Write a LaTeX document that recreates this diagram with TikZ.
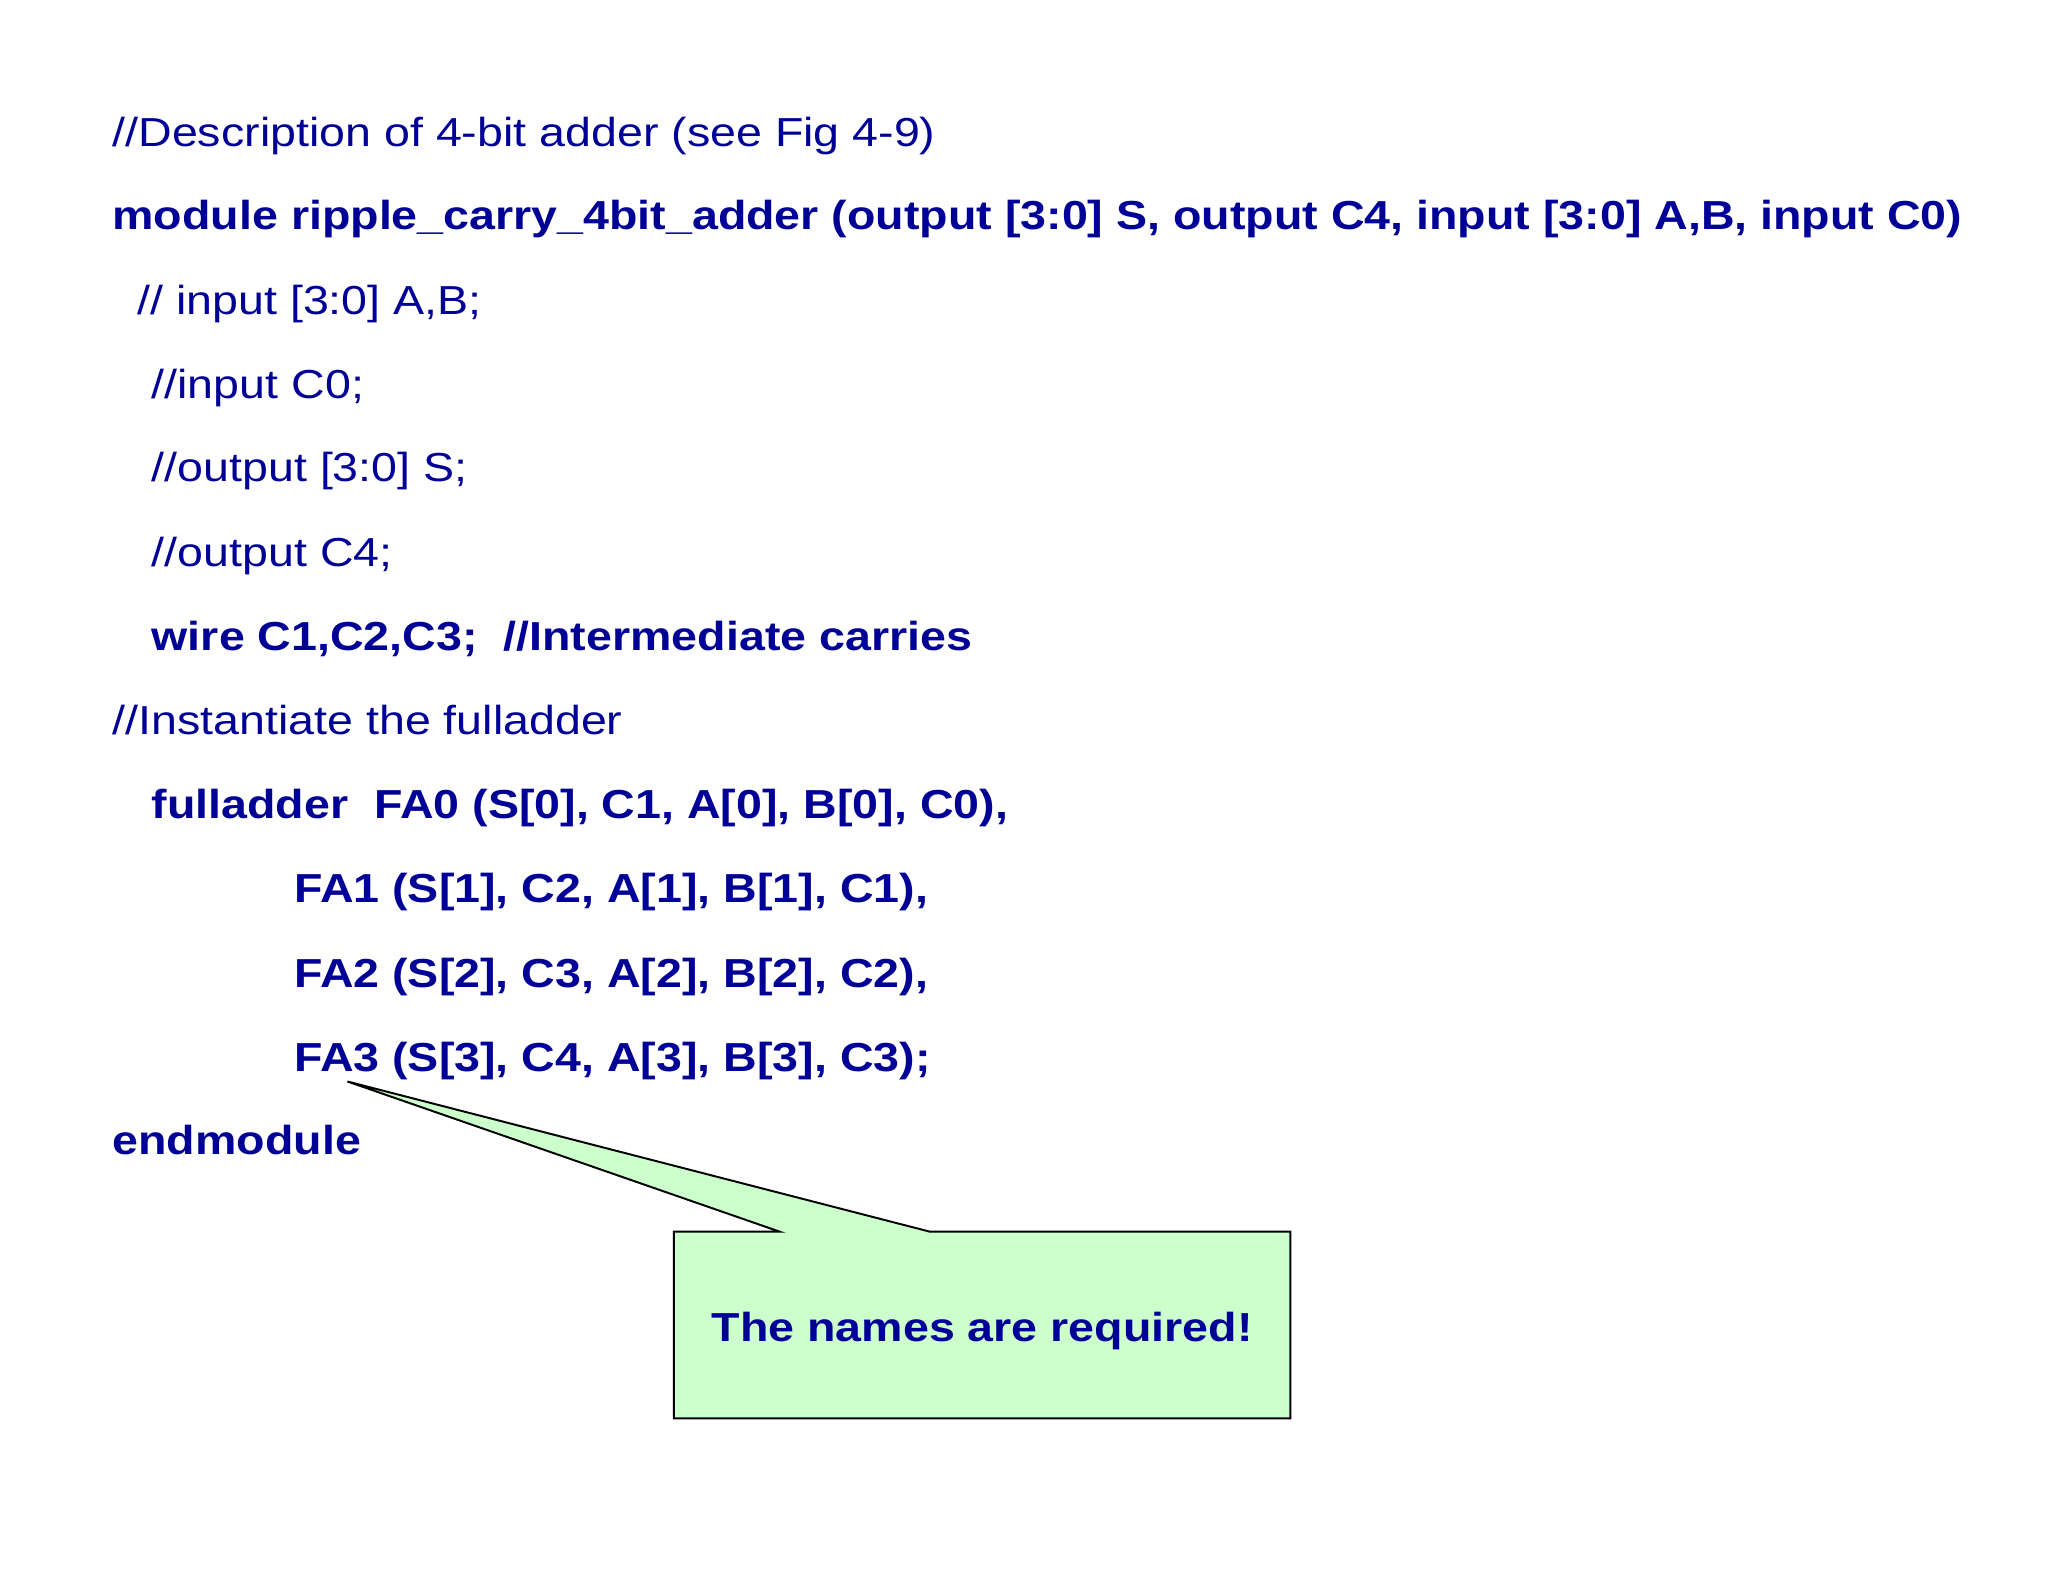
\documentclass[tikz,border=0pt]{standalone}
\usepackage{fontspec}
\setmainfont[FakeStretch=1.15]{Liberation Sans}
\definecolor{code}{RGB}{0,0,150}
\definecolor{callfill}{RGB}{204,255,204}
\begin{document}
\begin{tikzpicture}[x=1pt,y=-1pt,
  ln/.style={anchor=base west,inner sep=0pt,text=code,font=\fontsize{31}{31}\selectfont},
  bl/.style={ln,font=\fontsize{31}{31}\selectfont\bfseries}]
\useasboundingbox (0,0) rectangle (1568,1211);
\node[ln] (l1) at (86,112) {//Description of 4-bit adder (see Fig 4-9)};
\node[bl] (l2) at (86,176) {module ripple\_carry\_4bit\_adder (output [3:0] S, output C4, input [3:0] A,B, input C0)};
\node[ln] (l3) at (105,241) {// input [3:0] A,B;};
\node[ln] (l4) at (116,305) {//input C0;};
\node[ln] (l5) at (116,369) {//output [3:0] S;};
\node[ln] (l6) at (116,434) {//output C4;};
\node[bl] (l7) at (116,498) {wire C1,C2,C3;\ \ //Intermediate carries};
\node[ln] (l8) at (86,562) {//Instantiate the fulladder};
\node[bl] (l9) at (116,627) {fulladder\ \ FA0 (S[0], C1, A[0], B[0], C0),};
\node[bl] (l10) at (225,691) {FA1 (S[1], C2, A[1], B[1], C1),};
\node[bl] (l11) at (225,756) {FA2 (S[2], C3, A[2], B[2], C2),};
\node[bl] (l12) at (225,820) {FA3 (S[3], C4, A[3], B[3], C3);};
\node[bl] (l13) at (86,884) {endmodule};
\coordinate (tip) at (266,828);
\draw[fill=callfill,line width=1.5pt,line join=miter] (516,943) -- (597,943) -- (tip) -- (712,943) -- (988,943) -- (988,1086) -- (516,1086) -- cycle;
\node[bl,anchor=base] (note) at (752,1027) {The names are required!};
\end{tikzpicture}
\end{document}
